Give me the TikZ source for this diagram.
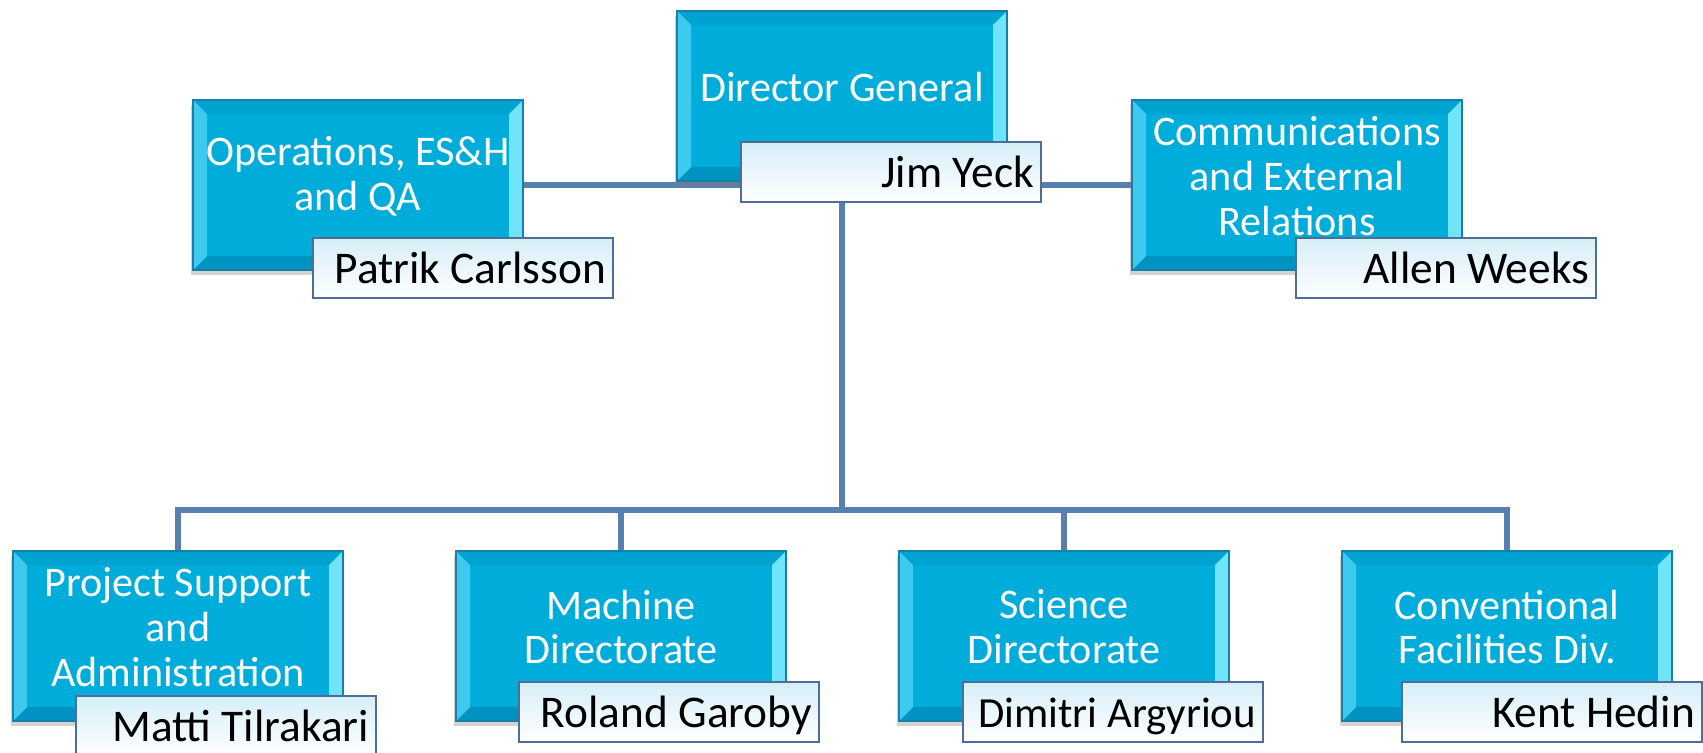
\documentclass[tikz,border=0pt]{standalone}
\usepackage{fontspec}
\setmainfont{Carlito}
\usetikzlibrary{shadows,backgrounds}
\definecolor{boxfill}{RGB}{0,172,218}
\definecolor{boxedge}{RGB}{22,128,168}
\definecolor{bevelleft}{RGB}{62,202,238}
\definecolor{bevelright}{RGB}{112,228,250}
\definecolor{bevelbottom}{RGB}{0,146,192}
\definecolor{beveltop}{RGB}{0,163,208}
\definecolor{namefill}{RGB}{214,238,248}
\definecolor{nameedge}{RGB}{78,110,150}
\definecolor{linkcol}{RGB}{88,128,174}
\tikzset{
dept/.style={
	draw=boxedge, fill=boxfill, minimum width=3.3cm, minimum height=1.7cm,
	drop shadow={shadow xshift=-0.02cm, shadow yshift=-0.05cm, opacity=0.35},
	path picture={
		\coordinate (bsw) at (path picture bounding box.south west);
		\coordinate (bne) at (path picture bounding box.north east);
		\coordinate (isw) at ([shift={(0.14,0.14)}]bsw);
		\coordinate (ine) at ([shift={(-0.14,-0.14)}]bne);
		\fill[bevelbottom] (bsw) -- (isw) -- (ine |- isw) -- (bne |- bsw) -- cycle;
		\fill[beveltop] (bsw |- bne) -- (isw |- ine) -- (ine) -- (bne) -- cycle;
		\fill[bevelleft] (bsw) -- (isw) -- (isw |- ine) -- (bsw |- bne) -- cycle;
		\fill[bevelright] (bne |- bsw) -- (ine |- isw) -- (ine) -- (bne) -- cycle;
	}},
depttext/.style={text=white, align=center, inner sep=0pt, yshift=0.09cm,
	font=\fontsize{12}{12.8}\selectfont},
who/.style={draw=nameedge, line width=0.02cm, top color=namefill, bottom color=white,
	minimum height=0.6cm, text width=2.86cm, align=flush right, inner xsep=0.07cm,
	text height=9pt, text depth=0pt, font=\fontsize{12.9}{14}\selectfont},
link/.style={draw=linkcol, line width=0.06cm}
}

\begin{document}
\begin{tikzpicture}
	\useasboundingbox (0,0) rectangle (17.03,7.52);
	\node[dept, label={[depttext, name=dgtitle]center:Director General}] (dg) at (8.42,6.56) {};
	\node[dept, label={[depttext, name=opstitle]center:Operations, ES\&H\\and QA}] (ops) at (3.58,5.67) {};
	\node[dept, label={[depttext, name=commtitle]center:Communications\\and External\\Relations}] (comm) at (12.97,5.67) {};
	\node[dept, label={[depttext, name=psatitle]center:Project Support\\and\\Administration}] (psa) at (1.78,1.16) {};
	\node[dept, label={[depttext, name=machtitle]center:Machine\\Directorate}] (mach) at (6.21,1.16) {};
	\node[dept, label={[depttext, name=scititle]center:Science\\Directorate}] (sci) at (10.64,1.16) {};
	\node[dept, label={[depttext, name=cfdtitle]center:Conventional\\Facilities Div.}] (cfd) at (15.07,1.16) {};

	\node[who] (dgname) at (8.91,5.80) {Jim Yeck};
	\node[who] (opsname) at (4.63,4.84) {Patrik Carlsson};
	\node[who] (commname) at (14.46,4.84) {Allen Weeks};
	\node[who] (psaname) at (2.26,0.26) {Matti Tilrakari};
	\node[who] (machname) at (6.69,0.40) {Roland Garoby};
	\node[who, font=\fontsize{12.2}{14}\selectfont] (sciname) at (11.13,0.40) {Dimitri Argyriou};
	\node[who] (cfdname) at (15.52,0.40) {Kent Hedin};

	\coordinate (bus) at (8.42,2.42);
	\begin{scope}[on background layer]
		\draw[link] (ops.east) -- (comm.west);
		\draw[link] (dg.south) -- (bus);
		\draw[link] (bus) -| (psa.north);
		\draw[link] (bus) -| (mach.north);
		\draw[link] (bus) -| (sci.north);
		\draw[link] (bus) -| (cfd.north);
	\end{scope}
\end{tikzpicture}
\end{document}
